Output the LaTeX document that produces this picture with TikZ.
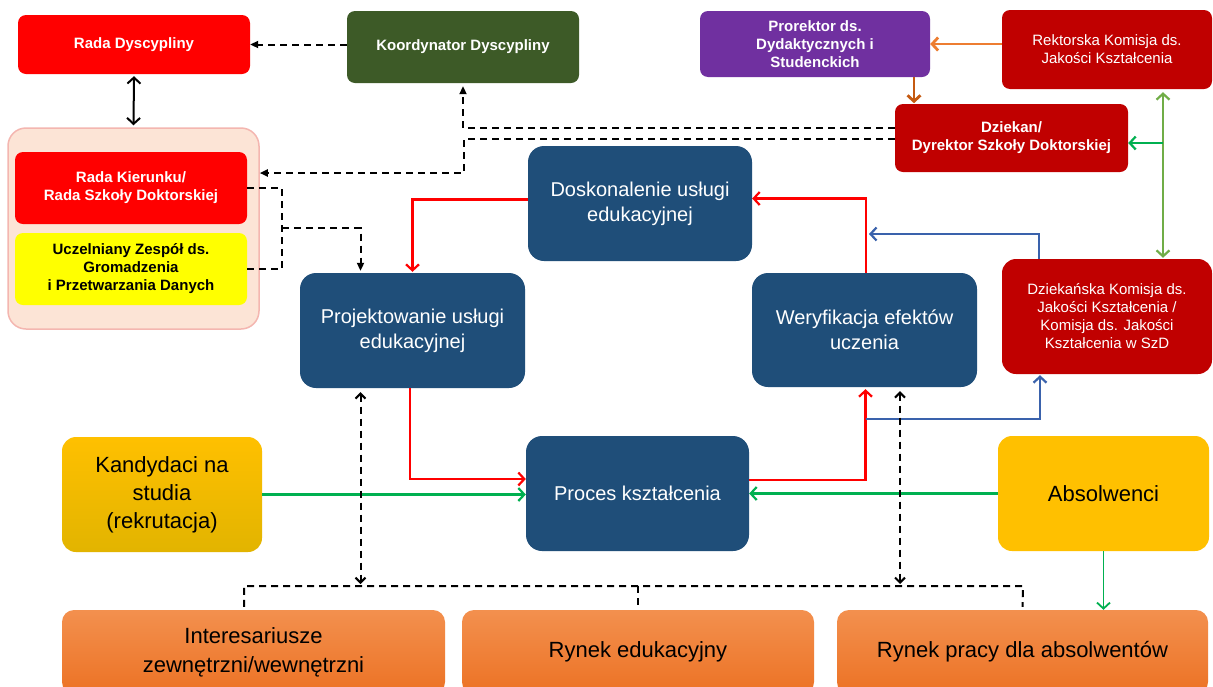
\documentclass[tikz,border=0pt]{standalone}
\usepackage{fontspec}
\setmainfont{Liberation Sans}
\usetikzlibrary{arrows.meta,calc}
\definecolor{cred}{HTML}{FF0000}
\definecolor{cdred}{HTML}{C00000}
\definecolor{colive}{HTML}{3D5A27}
\definecolor{cpurple}{HTML}{7030A0}
\definecolor{cnavy}{HTML}{1F4E79}
\definecolor{cyellow}{HTML}{FFFF00}
\definecolor{cgold}{HTML}{FFC000}
\definecolor{cgoldd}{HTML}{E2B400}
\definecolor{cpink}{HTML}{FCE4D6}
\definecolor{cpinkb}{HTML}{F4B6B0}
\definecolor{cgreen}{HTML}{00B050}
\definecolor{clgreen}{HTML}{70AD47}
\definecolor{cblue}{HTML}{3A62AC}
\definecolor{corange}{HTML}{ED7D31}
\definecolor{cbrown}{HTML}{C55A11}
\definecolor{corgt}{HTML}{F3904E}
\definecolor{corgb}{HTML}{EC7224}
\begin{document}
\begin{tikzpicture}[x=1pt,y=-1pt,
  box/.style={rounded corners=8pt, inner sep=0pt, align=center, text=white},
  sbold/.style={box, font=\fontsize{15}{18}\selectfont\bfseries},
  snorm/.style={box, font=\fontsize{15}{18}\selectfont},
  bigbox/.style={box, rounded corners=16pt, fill=cnavy, font=\fontsize{20}{25}\selectfont},
  ybox/.style={box, rounded corners=14pt, text=black, font=\fontsize{22}{28}\selectfont},
  obox/.style={box, rounded corners=12pt, text=black, font=\fontsize{22}{29}\selectfont, top color=corgt, bottom color=corgb},
  dashln/.style={draw=black, line width=2pt, dash pattern=on 7pt off 5pt},
  dasharr/.style={dashln, -{Triangle[length=8pt,width=7pt]}},
  dashtwo/.style={dashln, {Straight Barb[length=5pt,width=10pt]}-{Straight Barb[length=5pt,width=10pt]}},
  carr/.style={line width=2.2pt, -{Straight Barb[length=6pt,width=13pt]}},
  redarr/.style={carr, draw=cred},
  bluearr/.style={carr, draw=cblue},
  greenarr/.style={carr, draw=cgreen},
  orangearr/.style={carr, draw=corange, line width=2.8pt},
  brownarr/.style={carr, draw=cbrown, line width=2.8pt},
  lgreentwo/.style={line width=2.2pt, draw=clgreen, {Straight Barb[length=6pt,width=13pt]}-{Straight Barb[length=6pt,width=13pt]}},
  blktwo/.style={line width=2pt, draw=black, {Straight Barb[length=6pt,width=13pt]}-{Straight Barb[length=6pt,width=13pt]}}
]
\useasboundingbox (0,0) rectangle (1213,686);
\clip (0,0) rectangle (1213,686);
\fill[white] (0,0) rectangle (1213,686);

% top row
\node[sbold, fill=cred, minimum width=232pt, minimum height=59pt] (radady) at (134,44.5) {Rada Dyscypliny};
\node[sbold, fill=colive, minimum width=232pt, minimum height=72pt] (koord) at (463,47) {Koordynator Dyscypliny};
\node[sbold, fill=cpurple, minimum width=230pt, minimum height=66pt] (prorek) at (815,44) {Prorektor ds.\\Dydaktycznych i\\Studenckich};
\node[snorm, fill=cdred, minimum width=210pt, minimum height=79pt] (rektor) at (1107,49.5) {Rektorska Komisja ds.\\Jakości Kształcenia};
\node[sbold, fill=cdred, minimum width=233pt, minimum height=68pt] (dziekan) at (1011.5,138) {Dziekan/\\Dyrektor Szkoły Doktorskiej};

% left group
\node[box, rounded corners=18pt, fill=cpink, draw=cpinkb, line width=1.5pt, minimum width=251pt, minimum height=201pt] (outer) at (133.5,228.5) {};
\node[sbold, fill=cred, minimum width=232pt, minimum height=72pt] (radakier) at (131,188) {Rada Kierunku/\\Rada Szkoły Doktorskiej};
\node[sbold, fill=cyellow, text=black, minimum width=232pt, minimum height=72pt] (uczel) at (131,269) {Uczelniany Zespół ds.\\Gromadzenia\\i Przetwarzania Danych};

% cycle
\node[bigbox, minimum width=224pt, minimum height=115pt] (dosk) at (640,203.5) {Doskonalenie usługi\\edukacyjnej};
\node[bigbox, minimum width=225pt, minimum height=115pt] (proj) at (412.5,330.5) {Projektowanie usługi\\edukacyjnej};
\node[bigbox, minimum width=225pt, minimum height=114pt] (wery) at (864.5,330) {Weryfikacja efektów\\uczenia};
\node[bigbox, minimum width=223pt, minimum height=115pt] (proces) at (637.5,493.5) {Proces kształcenia};
\node[snorm, fill=cdred, rounded corners=14pt, minimum width=210pt, minimum height=115pt] (dkom) at (1107,316.5) {Dziekańska Komisja ds.\\Jakości Kształcenia /\\Komisja ds. Jakości\\Kształcenia w SzD};

% yellow
\node[ybox, top color=cgold, bottom color=cgoldd, minimum width=200pt, minimum height=115pt] (kand) at (162,494.5) {Kandydaci na\\studia\\(rekrutacja)};
\node[ybox, fill=cgold, minimum width=211pt, minimum height=115pt] (absol) at (1103.5,493.5) {Absolwenci};

% bottom
\node[obox, minimum width=383pt, minimum height=84pt] (inter) at (253.5,652) {Interesariusze\\zewnętrzni/wewnętrzni};
\node[obox, minimum width=352pt, minimum height=84pt] (rynek) at (638,652) {Rynek edukacyjny};
\node[obox, minimum width=371pt, minimum height=84pt] (rpracy) at (1022.5,652) {Rynek pracy dla absolwentów};

% coordinates
\coordinate (j1) at (464,173);
\coordinate (j2) at (282,228);
\coordinate (j3) at (869,234);
\coordinate (j5) at (865.5,419);
\coordinate (g1) at (1163,143);
\coordinate (d1) at (360.5,584);
\coordinate (d2) at (900,584);
\coordinate (br) at (1023,586);

% dashed connectors
\draw[dasharr] (koord.west |- radady.east) -- (radady.east);
\draw[blktwo] ([yshift=-2pt]radady.south) -- ([yshift=2pt]outer.north);
\draw[dasharr] ([yshift=10pt]dziekan.west) -| ([yshift=-3pt]koord.south);
\draw[dasharr] ([yshift=-1pt]dziekan.west) -| (j1) -- (outer.east |- j1);
\draw[dashln] (radakier.east) -| (j2) |- (uczel.east);
\draw[dasharr] (j2) -| ([xshift=-52pt,yshift=2pt]proj.north);

% cycle connectors
\draw[redarr] ([yshift=4pt]dosk.west) -| ([yshift=1pt]proj.north);
\draw[redarr] ([xshift=1.5pt]wery.north) |- ([yshift=5pt]dosk.east);
\draw[bluearr] ([xshift=-68pt]dkom.north) |- (j3);
\draw[redarr] ([xshift=-2.5pt]proj.south) |- ([yshift=14.5pt]proces.west);
\draw[redarr] ([yshift=13.5pt]proces.east) -| ([xshift=1pt,yshift=-2pt]wery.south);
\draw[bluearr] (j5) -| ([xshift=-67pt,yshift=-1pt]dkom.south);

% top right
\draw[orangearr] (rektor.west |- prorek.east) -- (prorek.east);
\draw[brownarr] ([xshift=99pt]prorek.south) -- ++(0,26);
\draw[lgreentwo] ([xshift=56pt,yshift=-3pt]rektor.south) -- ([xshift=56pt,yshift=1pt]dkom.north);
\draw[greenarr] (g1) -- (dziekan.east |- g1);

% green inputs
\draw[greenarr] (kand.east) -- (kand.east -| proces.west);
\draw[greenarr] (absol.west) -- (absol.west -| proces.east);
\draw[greenarr, line width=1.8pt] (absol.south) -- (absol.south |- rpracy.north);

% stakeholders
\draw[dashtwo] ([xshift=-52pt,yshift=-4pt]proj.south) -- (d1);
\draw[dashtwo] ([xshift=35.5pt,yshift=-4pt]wery.south) -- (d2);
\draw[dashln] ([xshift=-9.5pt,yshift=3pt]inter.north) |- (br) -- ([yshift=3pt]rpracy.north);
\draw[dashln] (rynek.north |- br) -- ([yshift=3pt]rynek.north);
\end{tikzpicture}
\end{document}
